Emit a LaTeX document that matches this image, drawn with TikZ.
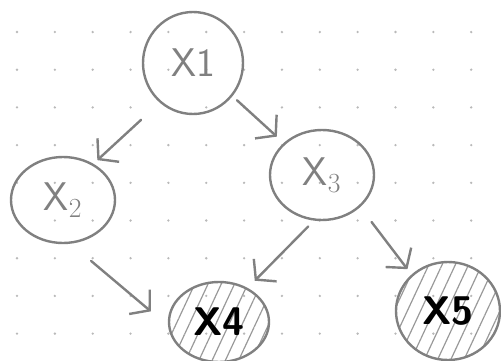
\documentclass[tikz,border=0pt]{standalone}
\usepackage{tikz}
\usetikzlibrary{shapes.geometric}
\usetikzlibrary{patterns.meta}
\usetikzlibrary{arrows.meta}

\definecolor{pen}{RGB}{128,128,128}
\definecolor{griddot}{RGB}{185,185,185}

\begin{document}
\begin{tikzpicture}[x=0.75pt,y=0.75pt,yscale=-1,xscale=1,
  var/.style={draw=pen, line width=1.8pt, ellipse, inner sep=0pt, text=pen, font=\sffamily\fontsize{30}{32}\selectfont},
  obs/.style={var, text=black, font=\sffamily\bfseries\fontsize{30}{32}\selectfont, pattern={Lines[angle=65,distance=9pt,line width=0.9pt]}, pattern color=pen!80},
  link/.style={draw=pen, line width=1.8pt, line cap=round, -{Straight Barb[length=10pt,width=24pt]}}]
\useasboundingbox (0,0) rectangle (501,361);

%Dot grid
\foreach \i in {0,...,12}
  \foreach \j in {0,...,8}
    \fill [griddot] (17+37.85*\i,32+37.7*\j) circle (1.3);

% Node
\node [var, minimum width=75pt, minimum height=76.5pt] (x1) at (193,63) {X1};
% Node
\node [var, minimum width=78pt, minimum height=64.5pt] (x2) at (63,200) {X$_2$};
% Node
\node [var, minimum width=78pt, minimum height=67.5pt] (x3) at (322,175) {X$_3$};
% Node
\node [obs, minimum width=75pt, minimum height=60pt] (x4) at (219,322) {X4};
% Node
\node [obs, minimum width=78pt, minimum height=73.5pt] (x5) at (448,311) {X5};

% Arrows
\draw [link, shorten <=19pt, shorten >=4pt] (x1.-130) -- (x2.50);
\draw [link, shorten <=4.5pt, shorten >=7pt] (x1.-40) -- (x3.140);
\draw [link, shorten <=20pt, shorten >=17.5pt] (x2.-80) -- (x4.185);
\draw [link, shorten <=6pt, shorten >=8pt] (x3.-100) -- (x4.50);
\draw [link, shorten <=14pt, shorten >=5pt] (x3.-40) -- (x5.135);

\end{tikzpicture}
\end{document}
